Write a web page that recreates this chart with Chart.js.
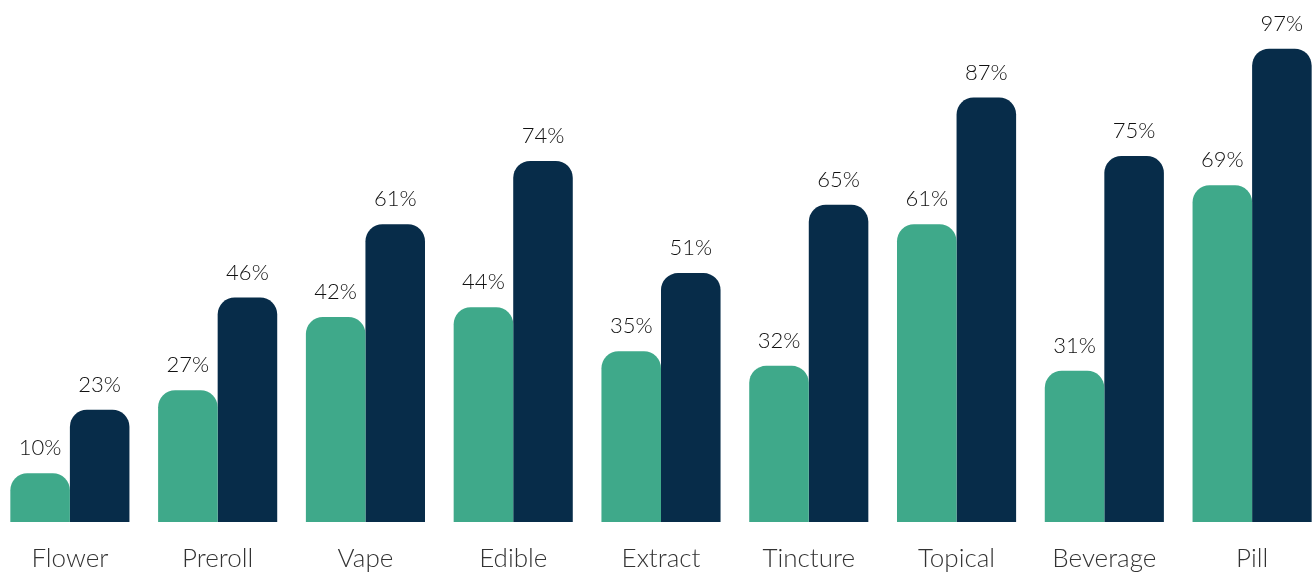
<!DOCTYPE html>
<html>
<head>
<meta charset="utf-8">
<script src="https://cdn.jsdelivr.net/npm/chart.js@4/dist/chart.umd.min.js"></script>
<style>
html,body{margin:0;padding:0;background:#fff;overflow:hidden;width:1315px;height:573px;}
#wrap{position:absolute;left:-4px;top:0;width:1330px;height:573px;}
</style>
</head>
<body>
<div id="wrap"><canvas id="c"></canvas></div>
<script>
const categories = ["Flower","Preroll","Vape","Edible","Extract","Tincture","Topical","Beverage","Pill"];
const seriesA = [10,27,42,44,35,32,61,31,69];
const seriesB = [23,46,61,74,51,65,87,75,97];
const seriesNames = ["Series A","Series B"];
const yTicks = [0,100];

const valueLabels = {
  id: 'valueLabels',
  afterDatasetsDraw(chart) {
    const ctx = chart.ctx;
    ctx.save();
    ctx.font = '300 22px Lato';
    ctx.fillStyle = '#111';
    ctx.textAlign = 'center';
    ctx.textBaseline = 'middle';
    chart.data.datasets.forEach((ds, i) => {
      const meta = chart.getDatasetMeta(i);
      meta.data.forEach((el, j) => {
        ctx.fillText(ds.data[j] + '%', el.x, el.y - 25);
      });
    });
    ctx.restore();
  }
};

new Chart(document.getElementById('c'), {
  type: 'bar',
  data: {
    labels: categories,
    datasets: [
      {label: seriesNames[0], data: seriesA, backgroundColor: '#3fa98a', borderRadius: {topLeft:17, topRight:17}, borderSkipped: 'bottom'},
      {label: seriesNames[1], data: seriesB, backgroundColor: '#072c49', borderRadius: {topLeft:17, topRight:17}, borderSkipped: 'bottom'}
    ]
  },
  options: {
    responsive: true,
    maintainAspectRatio: false,
    animation: false,
    layout: {padding: {top: 34, bottom: 0, left: 0, right: 0}},
    datasets: {bar: {categoryPercentage: 0.806, barPercentage: 1.0}},
    plugins: {legend: {display: false}, tooltip: {enabled: false}},
    scales: {
      y: {display: false, min: yTicks[0], max: yTicks[1]},
      x: {
        grid: {display: false, drawTicks: false},
        border: {display: false},
        ticks: {color: '#333', font: {family: 'Lato', size: 26, weight: 300}, padding: 21},
        afterFit(scale) { scale.height = 51; }
      }
    }
  },
  plugins: [valueLabels]
});
</script>
</body>
</html>
